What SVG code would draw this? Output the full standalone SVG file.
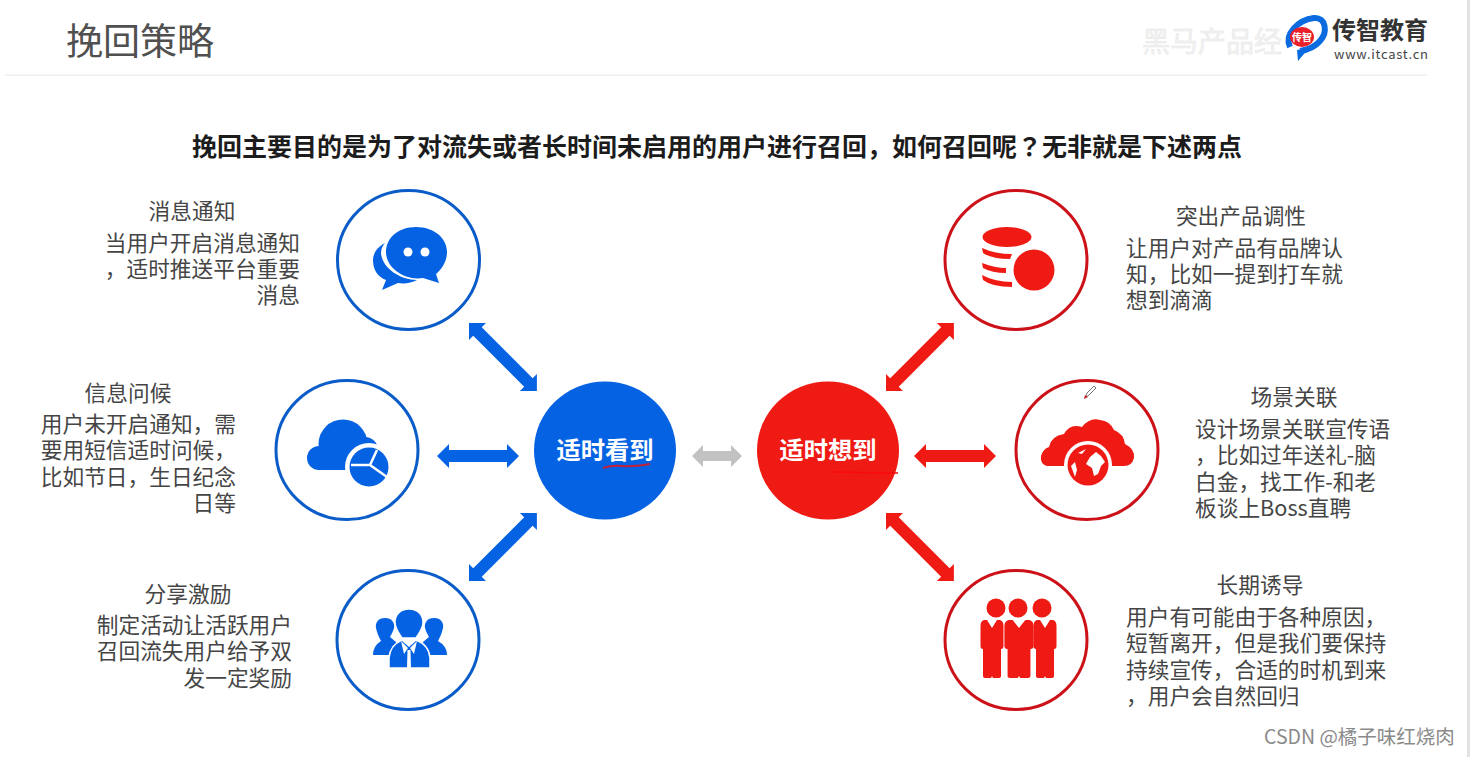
<svg xmlns="http://www.w3.org/2000/svg" xmlns:xlink="http://www.w3.org/1999/xlink" width="1470" height="757" viewBox="0 0 1470 757">
<style>
text{font-family:"Noto Sans CJK SC","Noto Sans",sans-serif}
.b{fill:#0562e2}.r{fill:#f01a14}.w{fill:#fff}
.rb{fill:#fff;stroke:#0a5cc8;stroke-width:3}
.rr{fill:#fff;stroke:#cc1218;stroke-width:3}
.h{font-size:21.7px;fill:#454545;text-anchor:middle}
.t{font-size:21.7px;fill:#454545}
.c{font-size:24.3px;font-weight:700;fill:#fff;text-anchor:middle}
</style>
<defs>
<polygon id="a96" points="0,0 12,-12 12,-6 84,-6 84,-12 96,0 84,12 84,6 12,6 12,12"/>
<polygon id="a82" points="0,0 12,-12 12,-6 70,-6 70,-12 82,0 70,12 70,6 12,6 12,12"/>
<path id="man" d="M-5 0 L0 8 L5 0 L8 0 Q11.500 1 11.500 6 L11.500 26 Q11.500 29 9 29 L9 56 Q9 58 6 58 L1 58 L0 56 L-1 58 L-6 58 Q-9 58 -9 56 L-9 29 Q-11.500 29 -11.500 26 L-11.500 6 Q-11.500 1 -8 0Z"/>
</defs>
<rect width="1470" height="757" fill="#fff"/>
<rect x="1467" y="0" width="3" height="757" fill="#e2e2e2"/>
<rect x="5" y="74.500" width="1422" height="1.500" fill="#eeeeee"/>
<g id="header">
<text x="66" y="55" font-size="37" fill="#505050">挽回策略</text>
<text x="1142" y="52" font-size="28" fill="#f3f3f3" stroke="#e6e6e6" stroke-width=".5">黑马产品经</text>
</g>
<g id="logo">
<path d="M1290 47 C1284 34 1298 20 1314 18 C1326 17 1328 32 1320 41 C1314 48 1307 50 1300 51" fill="none" stroke="#0a6ae0" stroke-width="6"/>
<path d="M1297 50 L1309 48 L1298 61Z" fill="#0a6ae0"/>
<ellipse cx="1302" cy="37" rx="12" ry="10" fill="#e8202a"/>
<text x="1302" y="41" font-size="10" font-weight="700" fill="#fff" text-anchor="middle">传智</text>
<text x="1332" y="39" font-size="24" font-weight="700" fill="#333">传智教育</text>
<text x="1334" y="59" font-size="13" fill="#444" font-family="Liberation Sans" textLength="94">www.itcast.cn</text>
</g>
<text x="192" y="156" font-size="25" font-weight="700" fill="#1c1c1c">挽回主要目的是为了对流失或者长时间未启用的用户进行召回，如何召回呢<tspan style="font-family:'Noto Sans CJK TC',sans-serif">？</tspan>无非就是下述两点</text>
<g id="connectors">
<use xlink:href="#a96" class="b" transform="translate(469 323) rotate(45)"/>
<use xlink:href="#a82" class="b" transform="translate(437 456)"/>
<use xlink:href="#a96" class="b" transform="translate(469 581) rotate(-45)"/>
<use xlink:href="#a96" class="r" transform="translate(886 391) rotate(-45)"/>
<use xlink:href="#a82" class="r" transform="translate(914 456)"/>
<use xlink:href="#a96" class="r" transform="translate(886 513) rotate(45)"/>
<polygon points="692,456 703,445 703,451 731,451 731,445 742,456 731,467 731,461 703,461 703,467" fill="#c2c2c2"/>
</g>
<g id="hub-blue">
<ellipse cx="605" cy="450.500" rx="71" ry="69" class="b"/>
<text x="605" y="459" class="c">适时看到</text>
<path d="M603 468 Q612 465 622 466 T650 464" fill="none" stroke="#c2203a" stroke-width="2"/>
</g>
<g id="hub-red">
<ellipse cx="828" cy="450.500" rx="71" ry="69" class="r"/>
<text x="828" y="459" class="c">适时想到</text>
<path d="M833 472 L898 473" fill="none" stroke="#fa0a0a" stroke-width="1.500"/>
</g>
<g id="node-message">
<ellipse cx="408.500" cy="260" rx="71" ry="69.500" class="rb"/>
<path class="b" d="M416 227 C434 227 447 238 447 252 C447 262 441 270 436 274 L439 283 L423 278 C405 281 386 268 386 252 C386 238 398 227 416 227Z"/>
<path class="b" d="M385 243 C377 247 373 254 373 260 C373 270 378 277 386 280 L382 290 L398 283 C405 284 411 283 417 280 C400 280 382 268 381 253 C381 250 382 246 385 243Z"/>
<circle cx="408" cy="252" r="4.500" class="w"/><circle cx="425" cy="252" r="4.500" class="w"/>
<text x="192" y="219" class="h">消息通知</text>
<text x="300" y="251" class="t" text-anchor="end">当用户开启消息通知</text>
<text x="300" y="277" class="t" text-anchor="end">，适时推送平台重要</text>
<text x="300" y="303" class="t" text-anchor="end">消息</text>
</g>
<g id="node-greeting">
<ellipse cx="347" cy="450" rx="71" ry="69.500" class="rb"/>
<circle cx="343" cy="444" r="24.500" class="b"/><circle cx="319" cy="458" r="12" class="b"/><circle cx="365" cy="450" r="13" class="b"/>
<rect x="319" y="450" width="50" height="20" class="b"/>
<circle cx="369" cy="467" r="24" class="w"/>
<circle cx="369" cy="467" r="19.500" class="b"/>
<path d="M351 465 L370 465 L377 450 M370 465 L387 477" fill="none" stroke="#fff" stroke-width="2.500"/>
<text x="128" y="401" class="h">信息问候</text>
<text x="236" y="432" class="t" text-anchor="end">用户未开启通知，需</text>
<text x="236" y="458" class="t" text-anchor="end">要用短信适时问候，</text>
<text x="236" y="485" class="t" text-anchor="end">比如节日，生日纪念</text>
<text x="236" y="511" class="t" text-anchor="end">日等</text>
</g>
<g id="node-share">
<ellipse cx="408" cy="640" rx="71" ry="69.500" class="rb"/>
<path class="b" d="M385 618 C392 618 395 623 394 628 C393 632 391 635 390 637 L396 642 L396 655 L373 655 Q373 646 381 641 C379 637 377 633 376 628 C375 623 378 618 385 618Z"/>
<path class="b" d="M434 618 C427 618 424 623 425 628 C426 632 428 635 429 637 L423 642 L423 655 L447 655 Q447 646 438 641 C440 637 442 633 443 628 C444 623 441 618 434 618Z"/>
<path class="b" stroke="#fff" stroke-width="1.500" d="M409 609 C418 609 423 615 423 622 C423 629 419 633 416 638 L402 638 C399 633 395 629 395 622 C395 615 400 609 409 609Z"/>
<path class="b" stroke="#fff" stroke-width="1.500" d="M389 668 L389 658 Q390 645 402 640 L409 646 L416 640 Q429 645 430 658 L430 668Z"/>
<path class="w" d="M401 641 L408 648 L404 654Z M417 641 L410 648 L414 654Z M407.500 650 L410.500 650 L411 668 L407 668Z"/>
<text x="188" y="602" class="h">分享激励</text>
<text x="292" y="633" class="t" text-anchor="end">制定活动让活跃用户</text>
<text x="292" y="659" class="t" text-anchor="end">召回流失用户给予双</text>
<text x="292" y="686" class="t" text-anchor="end">发一定奖励</text>
</g>
<g id="node-tone">
<ellipse cx="1016" cy="260" rx="71" ry="69.500" class="rr"/>
<ellipse cx="1007" cy="237" rx="24.500" ry="10" class="r"/>
<path class="r" d="M982 248 Q995 254 1012 254 L1010 259 Q992 259 983 253Z M982 263 Q995 268 1006 268 L1006 273 Q992 273 983 268Z M982 275 Q995 282 1012 282 L1012 287 Q992 287 983 280Z"/>
<circle cx="1034" cy="270" r="20.500" class="r"/>
<text x="1241" y="224" class="h">突出产品调性</text>
<text x="1126" y="256" class="t">让用户对产品有品牌认</text>
<text x="1126" y="282" class="t">知，比如一提到打车就</text>
<text x="1126" y="308" class="t">想到滴滴</text>
</g>
<g id="node-scene">
<ellipse cx="1087" cy="450" rx="71" ry="69.500" class="rr"/>
<polygon points="1085,398 1087,393 1094,386 1096,388 1089,395" fill="#fff" stroke="#777" stroke-width="1"/>
<polygon points="1084,399 1085,395 1088,397" fill="#c8202a"/>
<path class="r" d="M1047 466 Q1040 464 1041 456 Q1043 449 1049 447 Q1051 436 1064 434 Q1070 423 1082 427 Q1090 417 1100 420 Q1110 421 1114 430 Q1124 434 1125 444 Q1135 449 1134 458 Q1132 466 1124 466Z"/>
<circle cx="1088" cy="465" r="24" class="w"/>
<circle cx="1088" cy="465" r="20.500" class="r"/>
<path class="w" d="M1090 457 L1096 452 L1101 456 L1105 462 L1101 466 L1098 474 L1094 476 L1092 468 L1086 464Z M1071 466 L1075 462 L1077 470 L1075 477Z M1078 453 L1086 449 L1082 454Z"/>
<text x="1294" y="405" class="h">场景关联</text>
<text x="1195" y="437" class="t">设计场景关联宣传语</text>
<text x="1195" y="463" class="t">，比如过年送礼-脑</text>
<text x="1195" y="490" class="t">白金，找工作-和老</text>
<text x="1195" y="516" class="t">板谈上Boss直聘</text>
</g>
<g id="node-induce">
<ellipse cx="1016" cy="640" rx="71" ry="69.500" class="rr"/>
<circle cx="996" cy="608" r="9.500" class="r"/><circle cx="1018" cy="608" r="9.500" class="r"/><circle cx="1042" cy="608" r="9.500" class="r"/>
<use xlink:href="#man" class="r" x="992" y="620"/>
<use xlink:href="#man" class="r" x="1045" y="620"/>
<use xlink:href="#man" class="r" transform="translate(1019 620) scale(1.270 1)"/>
<text x="1260" y="593" class="h">长期诱导</text>
<text x="1126" y="625" class="t">用户有可能由于各种原因，</text>
<text x="1126" y="651" class="t">短暂离开，但是我们要保持</text>
<text x="1126" y="678" class="t">持续宣传，合适的时机到来</text>
<text x="1126" y="704" class="t">，用户会自然回归</text>
</g>
<text x="1264" y="744" font-size="19.500" fill="#8a8a8a">CSDN @橘子味红烧肉</text>
</svg>
